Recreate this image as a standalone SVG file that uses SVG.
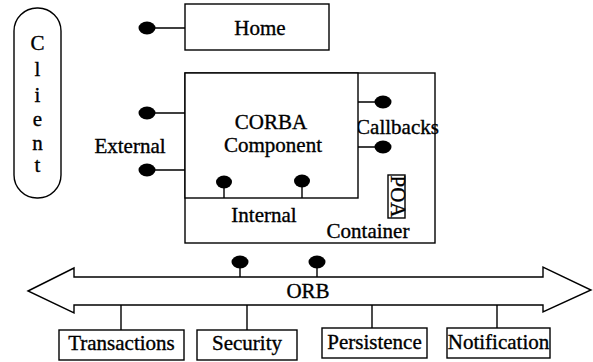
<svg xmlns="http://www.w3.org/2000/svg" width="593" height="362" viewBox="0 0 593 362">
<style>
.b{fill:#fff;stroke:#000;stroke-width:1.4}
.l{stroke:#000;stroke-width:1.4;fill:none}
.d{fill:#000}
text{font-family:"Liberation Serif","Times New Roman",serif;font-size:21px;fill:#000;stroke:#000;stroke-width:0.35;text-anchor:middle}
.c{font-size:21px}
</style>
<rect width="593" height="362" fill="#fff"/>
<g id="client">
<rect class="b" x="14" y="8" width="47" height="190" rx="23" ry="23"/>
<text class="c" x="37.5" y="50">C</text>
<text class="c" x="37.5" y="76">l</text>
<text class="c" x="37.5" y="102">i</text>
<text class="c" x="37.5" y="126">e</text>
<text class="c" x="37.5" y="150">n</text>
<text class="c" x="37.5" y="172">t</text>
</g>
<g id="home">
<rect class="b" x="185" y="4" width="144" height="46"/>
<text x="260" y="35">Home</text>
</g>
<g id="container">
<rect class="b" x="185" y="73" width="250" height="170"/>
<text x="368" y="238">Container</text>
<text x="264" y="222">Internal</text>
<text x="397.5" y="134" font-size="16.5">Callbacks</text>
</g>
<g id="component">
<rect class="b" x="185" y="73" width="173" height="125"/>
<text x="271" y="129">CORBA</text>
<text x="273" y="152">Component</text>
</g>
<g id="poa">
<rect class="b" x="388" y="175" width="17" height="43"/>
<text x="0" y="0" font-size="17" transform="translate(390.5 196.5) rotate(90)">POA</text>
</g>
<g id="external">
<text x="130" y="153">External</text>
</g>
<g id="orb">
<path class="b" d="M28 291 L74 268 L74 277 L543 277 L543 267 L591 290 L543 312 L543 305 L74 305 L74 313 Z"/>
<text x="308" y="298">ORB</text>
</g>
<g id="transactions">
<rect class="b" x="59" y="330" width="125" height="30"/>
<text x="121.5" y="350">Transactions</text>
</g>
<g id="security">
<rect class="b" x="197" y="330" width="100" height="30"/>
<text x="247" y="350">Security</text>
</g>
<g id="persistence">
<rect class="b" x="322" y="328" width="105" height="30"/>
<text x="374.5" y="349">Persistence</text>
</g>
<g id="notification">
<rect class="b" x="447" y="328" width="103" height="30"/>
<text x="498.5" y="349">Notification</text>
</g>
<g id="connectors">
<path class="l" d="M155 28H185M155 113H185M155 170H185M358 102H375M358 147H375M224 188V198M302 187V198M240 268V277M317 268V277M121 305V330M247 305V330M372 305V328M497 305V328"/>
<ellipse class="d" cx="147" cy="28" rx="8.5" ry="6.5"/>
<ellipse class="d" cx="147" cy="113" rx="8.5" ry="6.5"/>
<ellipse class="d" cx="147" cy="170" rx="8.5" ry="6.5"/>
<ellipse class="d" cx="383" cy="102" rx="8.5" ry="6.5"/>
<ellipse class="d" cx="383" cy="147" rx="8.5" ry="6.5"/>
<ellipse class="d" cx="224" cy="182" rx="8" ry="6.5"/>
<ellipse class="d" cx="302" cy="181" rx="8" ry="6.5"/>
<ellipse class="d" cx="240" cy="262" rx="8.5" ry="6.5"/>
<ellipse class="d" cx="317" cy="262" rx="8.5" ry="6.5"/>
</g>
</svg>
